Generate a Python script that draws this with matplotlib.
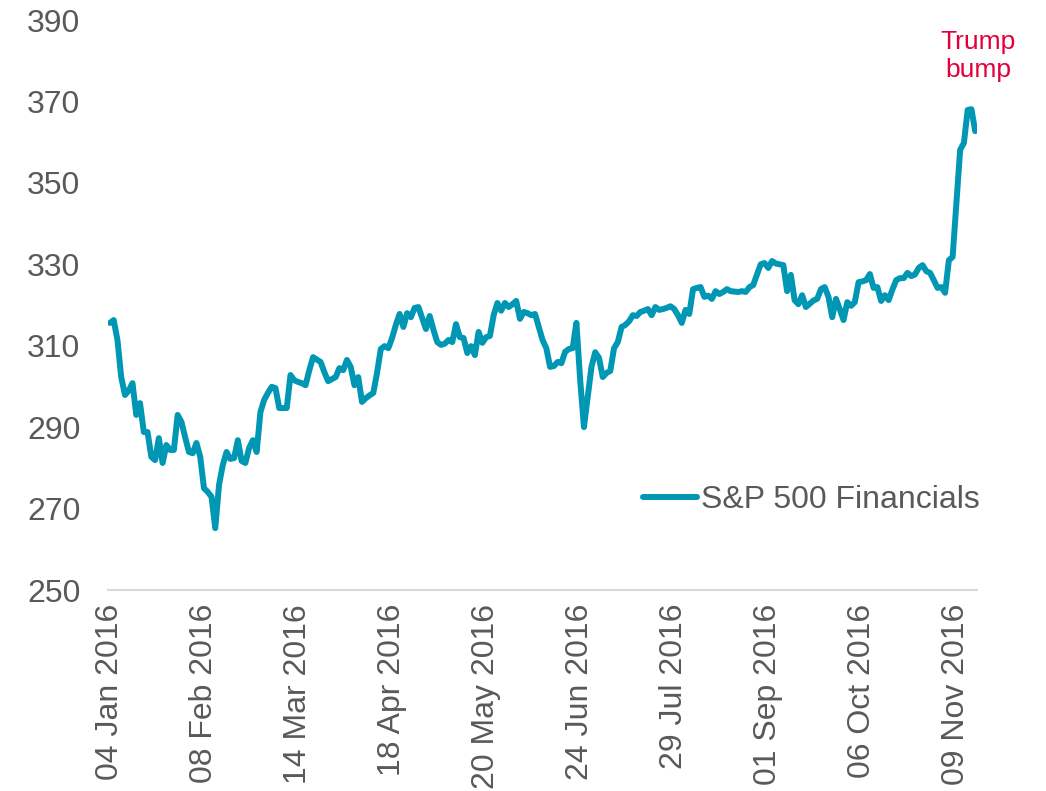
import matplotlib.pyplot as plt
import numpy as np

plt.rcParams['font.family'] = ['Liberation Sans', 'DejaVu Sans']

# S&P 500 Financials, one value per trading day
financials = [
    315.6, 316.3, 311.4, 302.3, 297.9, 299.0, 300.8, 293.0, 295.9, 288.8,
    288.8, 282.7, 281.9, 287.3, 281.2, 285.6, 284.4, 284.4, 293.0, 291.3,
    287.5, 283.9, 283.6, 286.1, 282.7, 275.0, 274.1, 272.9, 265.2, 275.8,
    280.7, 283.9, 282.2, 282.4, 286.8, 281.7, 281.2, 284.9, 286.8, 283.9,
    293.7, 296.7, 298.4, 299.9, 299.6, 294.7, 294.7, 294.7, 302.8, 301.5,
    301.1, 300.8, 300.3, 304.0, 307.2, 306.6, 306.0, 303.5, 301.3, 301.8,
    302.3, 304.5, 304.0, 306.5, 304.8, 300.3, 302.3, 296.2, 297.1, 297.8,
    298.4, 303.3, 309.2, 309.9, 309.4, 311.9, 315.1, 317.8, 314.6, 318.0,
    317.0, 319.3, 319.5, 316.8, 314.1, 317.3, 313.9, 310.9, 310.2, 310.5,
    311.4, 310.9, 315.3, 312.1, 311.9, 308.2, 309.9, 307.7, 313.4, 310.7,
    312.1, 312.4, 317.5, 320.5, 318.6, 320.5, 319.5, 320.2, 321.0, 316.6,
    318.3, 318.0, 317.5, 317.8, 314.6, 311.4, 309.4, 304.8, 305.0, 306.0,
    305.7, 308.5, 309.2, 309.4, 315.6, 301.6, 290.0, 297.4, 304.8, 308.4,
    307.0, 302.3, 303.3, 303.8, 309.4, 310.9, 314.6, 315.1, 316.0, 317.5,
    317.3, 318.3, 318.6, 319.0, 317.5, 319.5, 318.8, 319.0, 319.3, 319.7,
    319.0, 317.5, 315.6, 318.8, 317.8, 323.9, 324.2, 324.4, 322.0, 322.3,
    321.5, 323.4, 322.7, 323.2, 323.9, 323.4, 323.3, 323.2, 323.4, 323.2,
    324.4, 324.9, 327.5, 330.0, 330.3, 329.1, 330.8, 330.2, 330.0, 329.8,
    323.4, 327.4, 321.2, 320.2, 322.4, 319.5, 320.3, 321.1, 321.5, 323.9,
    324.4, 322.0, 317.0, 321.5, 319.0, 316.3, 320.7, 319.8, 320.7, 325.6,
    325.8, 326.1, 327.6, 324.2, 324.4, 321.0, 322.4, 321.2, 323.8, 326.1,
    326.6, 326.6, 327.9, 327.1, 327.5, 329.1, 329.8, 328.3, 327.9, 326.1,
    324.2, 324.4, 323.0, 331.0, 331.8, 345.0, 358.1, 359.8, 367.9, 368.1,
    362.7,
]
tick_labels = ['04 Jan 2016', '08 Feb 2016', '14 Mar 2016', '18 Apr 2016',
               '20 May 2016', '24 Jun 2016', '29 Jul 2016', '01 Sep 2016',
               '06 Oct 2016', '09 Nov 2016']
tick_every = 25

teal = '#0097B5'
grey = '#595959'
red = '#E3003A'

fig = plt.figure(figsize=(10.46, 7.91), dpi=100)
ax = fig.add_axes([0.1033, 0.2541, 0.8308, 0.7206])

x = np.arange(len(financials))
ax.plot(x, financials, color=teal, lw=4.3, solid_joinstyle='round',
        solid_capstyle='round', label='S&P 500 Financials')

ax.set_xlim(-0.5, len(financials) - 0.5)
ax.set_ylim(250, 390)
ax.set_yticks(np.arange(250, 391, 20))
ax.set_xticks(np.arange(len(tick_labels)) * tick_every)
ax.set_xticklabels(tick_labels, rotation=90)

for s in ['top', 'right', 'left']:
    ax.spines[s].set_visible(False)
ax.spines['bottom'].set_color('#D9D9D9')
ax.spines['bottom'].set_linewidth(1.5)
ax.tick_params(axis='both', length=0, labelsize=23, colors=grey)
ax.tick_params(axis='y', pad=20)
ax.tick_params(axis='x', pad=10)

leg = ax.legend(loc='center left', bbox_to_anchor=(643 / 1046, 1 - 500 / 791),
                bbox_transform=fig.transFigure, frameon=False, fontsize=23,
                handlelength=1.7, handletextpad=0.12, borderpad=0,
                borderaxespad=0)
for t in leg.get_texts():
    t.set_color(grey)

fig.text(978 / 1046, 1 - 56 / 791, 'Trump\nbump', color=red, fontsize=19,
         ha='center', va='center', linespacing=1.25)

fig.savefig('out.png', dpi=100)
